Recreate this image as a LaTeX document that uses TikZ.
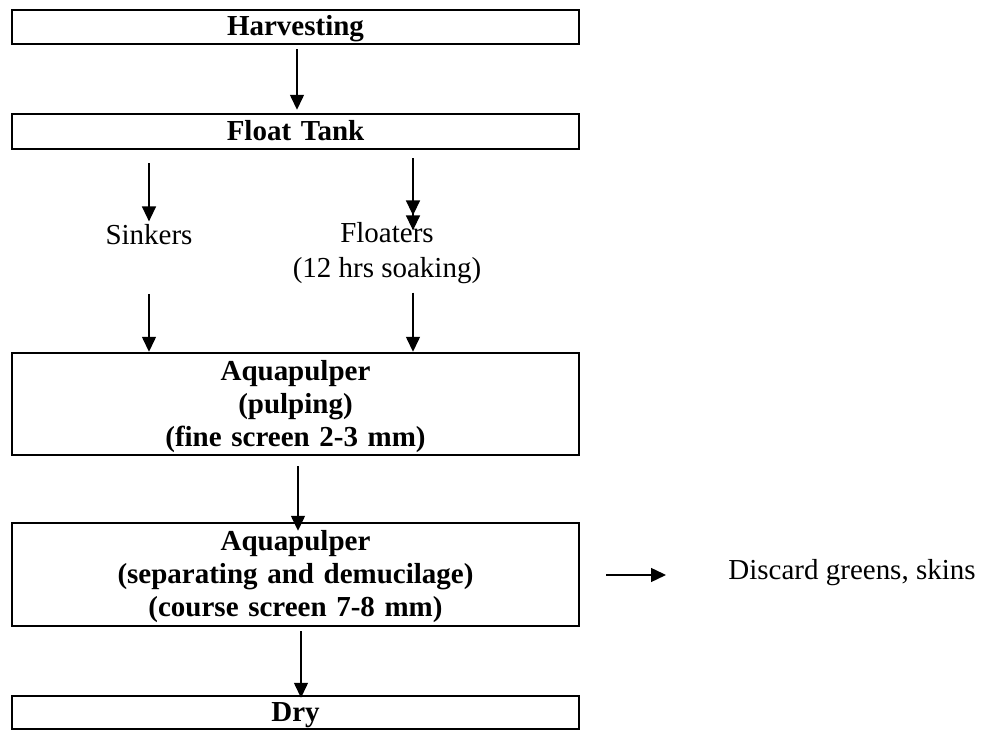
\documentclass[tikz,border=0pt]{standalone}
\usepackage{fontspec}
\setmainfont{Liberation Serif}
\usetikzlibrary{arrows.meta,calc}
\begin{document}
\begin{tikzpicture}[x=0.414pt,y=-0.414pt,
  stage/.style={draw, line width=1pt, minimum width=567*0.414pt, inner sep=0pt,
    align=center, text width=560*0.414pt,
    font=\fontsize{12pt}{13.66pt}\selectfont\bfseries},
  oneline/.style={stage, text height=10pt, text depth=2.6pt},
  threeline/.style={stage, text height=10.1pt, text depth=29.9pt},
  plain/.style={inner sep=0pt, font=\fontsize{12pt}{14.5pt}\selectfont},
  flow/.style={line width=0.55pt, -{Triangle[length=6.2pt, width=5.8pt]}}]
\useasboundingbox (0,0) rectangle (988,731);

% process stages
\node[oneline, minimum height=34*0.414pt] (harv) at (295.5,27) {Harvesting};
\node[oneline, minimum height=35*0.414pt] (float) at (295.5,131.5) {Float Tank};
\node[plain, anchor=base] (sink) at (149,245) {Sinkers};
\node[plain, anchor=base, align=center] (flt) at (387,278) {Floaters\\(12 hrs soaking)};
\node[threeline, minimum height=102*0.414pt] (pulp) at (295.5,404)
  {Aquapulper\\(pulping)\\(fine screen 2-3 mm)};
\node[threeline, minimum height=103*0.414pt] (demu) at (295.5,574.5)
  {Aquapulper\\(separating and demucilage)\\(course screen 7-8 mm)};
\node[oneline, minimum height=33*0.414pt] (dry) at (295.5,712.5) {Dry};
\node[plain, anchor=base west] (disc) at (728,580) {Discard greens, skins};

% flow arrows
\draw[flow] ($(harv.south)+(1.5,4)$) -- ($(float.north)+(1.5,-3)$);
\draw[flow] ($(float.south -| sink)+(0,13)$) -- ($(sink.north)+(0,-3)$);
\draw[flow] ($(float.south)+(117.5,8)$) -- ($(flt.north)+(26,-7)$);
\draw[flow] ($(flt.north)+(26,-12)$) -- ($(flt.north)+(26,8)$);
\draw[flow] ($(sink.south)+(0,48)$) -- (pulp.north -| sink);
\draw[flow] ($(flt.south)+(26,8)$) -- ($(pulp.north)+(117.5,0)$);
\draw[flow] ($(pulp.south)+(2.5,10)$) -- ($(demu.north)+(2.5,9)$);
\draw[flow] ($(demu.south)+(5.5,4)$) -- ($(dry.north)+(5.5,3)$);
\draw[flow] ($(demu.east)+(26,0.5)$) -- ($(disc.west |- demu.east)+(-62,0.5)$);
\end{tikzpicture}
\end{document}
